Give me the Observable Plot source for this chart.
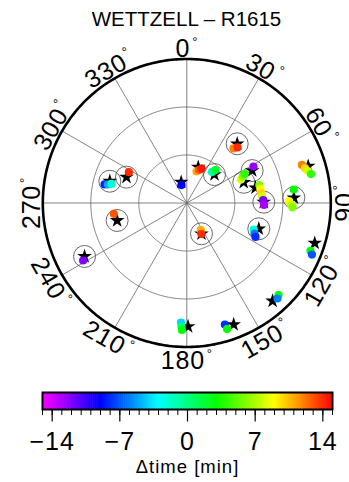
<!DOCTYPE html>
<html><head><meta charset="utf-8">
<script src="https://cdn.jsdelivr.net/npm/d3@7"></script>
<script src="https://cdn.jsdelivr.net/npm/@observablehq/plot@0.6"></script>
<style>
html,body{margin:0;padding:0;background:#fff;}
#wrap{position:relative;width:349px;height:482px;overflow:hidden;font-family:"Liberation Sans",Arial,Helvetica,sans-serif;}
#title{position:absolute;left:0;top:9px;width:373px;text-align:center;font-size:20.5px;line-height:20px;color:#000;z-index:2;white-space:nowrap;}
#polar{position:absolute;left:0;top:0;}
#cbar{position:absolute;left:0;top:380px;}
svg{display:block;}
#polar text{letter-spacing:0.8px;}
#cbar text{letter-spacing:1px;}
</style></head><body>
<div id="wrap"><div id="polar"></div><div id="cbar"></div><div id="title">WETTZELL – R1615</div></div>
<script>
// ---- data (azimuth °, elevation °) ----
const starAz = [344.9, 17.7, 44.2, 40.4, 63.6, 70.0, 77.5, 89.4, 87.2, 73.1, 109.7, 107.4, 138.8, 158.9, 179.4, 154.5, 285.8, 293.2, 255.9, 242.4];
const starEl = [76.5, 66.5, 65.2, 41.4, 44.4, 52.1, 46.0, 41.9, 23.0, 10.7, 42.2, 6.2, 8.6, 8.6, 12.8, 68.7, 40.0, 49.0, 45.1, 17.9];
const starCircled = [0, 0, 1, 1, 1, 1, 0, 1, 1, 0, 1, 0, 0, 0, 0, 1, 1, 1, 1, 1];

const obsAz = [343.6, 17.1, 20.3, 23.1, 39.1, 41.0, 40.6, 42.4, 61.3, 66.6, 64.7, 63.3,
  76.1, 79.2, 82.4, 85.1, 87.8, 91.5, 82.8, 88.9, 90.8, 92.4, 71.7, 73.5, 75.2, 76.9,
  111.6, 114.3, 116.3, 111.2, 112.4, 135.1, 136.5, 162.6, 162.3, 182.8, 182.5, 182.2,
  152.6, 154.9, 282.7, 283.2, 284.2, 298.0, 261.6, 241.0];
const obsEl = [78.3, 69.4, 68.0, 66.6, 65.0, 62.7, 45.1, 43.0, 42.5, 53.1, 51.3, 49.6,
  43.3, 43.2, 43.0, 42.8, 42.2, 41.7, 22.6, 26.1, 24.9, 23.9, 14.2, 13.0, 11.7, 10.3,
  45.0, 43.6, 42.1, 7.1, 5.4, 8.8, 7.7, 10.4, 7.3, 15.2, 12.7, 10.6,
  71.0, 68.6, 37.3, 39.4, 41.5, 49.0, 43.9, 15.9];
const obsDt = [-9, 11, 13, 14.5, -1, 2, 12, 14, -12.5, 8, 6, 4,
  6, 9, 10, 8, -12, -13, 3, 9, 8, 6, 12, 10, 8, 4,
  -2, -6, -8, 3, -7, 3, -6, -8, 3, -4, 0, 3,
  11, 14, -8, -5, -2, 14, 13, -12];

const azTicks = [0, 30, 60, 90, 120, 150, 180, 210, 240, 270, 300, 330];
const ringZd = [30, 60, 90];
const colorDomain = [-15, 15];
const colorTicks = [-14, -7, 0, 7, 14];
const colorStops = [-15, -9, -3, 3, 9, 15];
const colorRange = ["#ff00ff", "#0000ff", "#00ffff", "#00ff00", "#ffff00", "#ff0000"];

// ---- helpers ----
const rad = Math.PI / 180;
const px = (az, zd) => zd * Math.sin(az * rad);
const py = (az, zd) => zd * Math.cos(az * rad);
const font = "'Liberation Sans', Arial, Helvetica, sans-serif";
const colorScale = {type: "linear", domain: colorStops, range: colorRange, interpolate: "rgb"};

const stars = starAz.map((az, i) => ({az, zd: 90 - starEl[i], circled: starCircled[i]}));
const obs = obsAz.map((az, i) => ({az, zd: 90 - obsEl[i], dt: obsDt[i]}));
const ringPts = ringZd.flatMap(zd => d3.range(0, 361, 1).map(a => ({zd, a})));

const W = 349, H = 380, CX = 186.3, CY = 202.5, K = 1.6;

const polar = Plot.plot({
  width: W, height: H,
  marginLeft: 0, marginRight: 0, marginTop: 0, marginBottom: 0,
  style: {fontFamily: font, background: "white", overflow: "visible"},
  x: {domain: [-CX / K, (W - CX) / K], range: [0, W], axis: null},
  y: {domain: [-(H - CY) / K, CY / K], range: [H, 0], axis: null},
  color: colorScale,
  marks: [
    Plot.line(ringPts.filter(d => d.zd < 90), {x: d => px(d.a, d.zd), y: d => py(d.a, d.zd), z: "zd", stroke: "#666", strokeWidth: 0.8}),
    Plot.link(azTicks, {x1: () => 0, y1: () => 0, x2: a => px(a, 90), y2: a => py(a, 90), stroke: "#666", strokeWidth: 0.8}),
    Plot.line(ringPts.filter(d => d.zd === 90), {x: d => px(d.a, d.zd), y: d => py(d.a, d.zd), stroke: "black", strokeWidth: 2.6}),
    Plot.text(azTicks.filter(a => a < 90 || a >= 270), {
      x: a => px(a, 91.5), y: a => py(a, 91.5), text: a => String(a),
      rotate: a => (a < 90 ? a : a - 360), lineAnchor: "bottom", textAnchor: "middle",
      fontSize: 25, fill: "black"
    }),
    Plot.text(azTicks.filter(a => a >= 90 && a < 270), {
      x: a => px(a, 92.6), y: a => py(a, 92.6), text: a => String(a),
      rotate: a => a - 180, lineAnchor: "top", textAnchor: "middle",
      fontSize: 25, fill: "black"
    }),
    Plot.dot(stars.filter(d => d.circled), {x: d => px(d.az, d.zd), y: d => py(d.az, d.zd), r: 11, stroke: "#444", strokeWidth: 0.8, fill: "none"}),
    Plot.dot(stars, {x: d => px(d.az, d.zd), y: d => py(d.az, d.zd), symbol: "star", r: 4.6, fill: "black"}),
    Plot.dot(obs, {x: d => px(d.az, d.zd), y: d => py(d.az, d.zd), r: 4.1, fill: "dt"})
  ]
});
// small degree rings after the azimuth labels
polar.querySelectorAll("text").forEach(t => {
  const ts = document.createElementNS("http://www.w3.org/2000/svg", "tspan");
  ts.setAttribute("font-size", "13");
  ts.setAttribute("dx", "2");
  ts.setAttribute("dy", "-11");
  ts.textContent = "°";
  t.appendChild(ts);
});
document.getElementById("polar").appendChild(polar);

const steps = d3.range(colorDomain[0], colorDomain[1], 0.2);
const cbar = Plot.plot({
  width: W, height: 102,
  marginLeft: 42, marginRight: 17, marginTop: 12, marginBottom: 73,
  style: {fontFamily: font, background: "white", overflow: "visible"},
  x: {domain: colorDomain, axis: null},
  y: {axis: null},
  color: colorScale,
  marks: [
    Plot.barX(steps, {x1: d => d, x2: d => Math.min(d + 0.26, colorDomain[1]), fill: d => d + 0.1}),
    Plot.frame({stroke: "black", strokeWidth: 2}),
    Plot.axisX(d3.range(colorDomain[0], colorDomain[1] + 1), {tickSize: 6, tickFormat: () => "", stroke: "black", strokeWidth: 1, label: null}),
    Plot.axisX(colorTicks, {tickSize: 12.5, tickPadding: 10, fontSize: 25, stroke: "black", fill: "black", strokeWidth: 1.2, label: null}),
    Plot.text(["Δtime [min]"], {text: d => d, frameAnchor: "bottom", lineAnchor: "bottom", dy: 63, fontSize: 18.5, fill: "black"})
  ]
});
document.getElementById("cbar").appendChild(cbar);
</script>
</body></html>
